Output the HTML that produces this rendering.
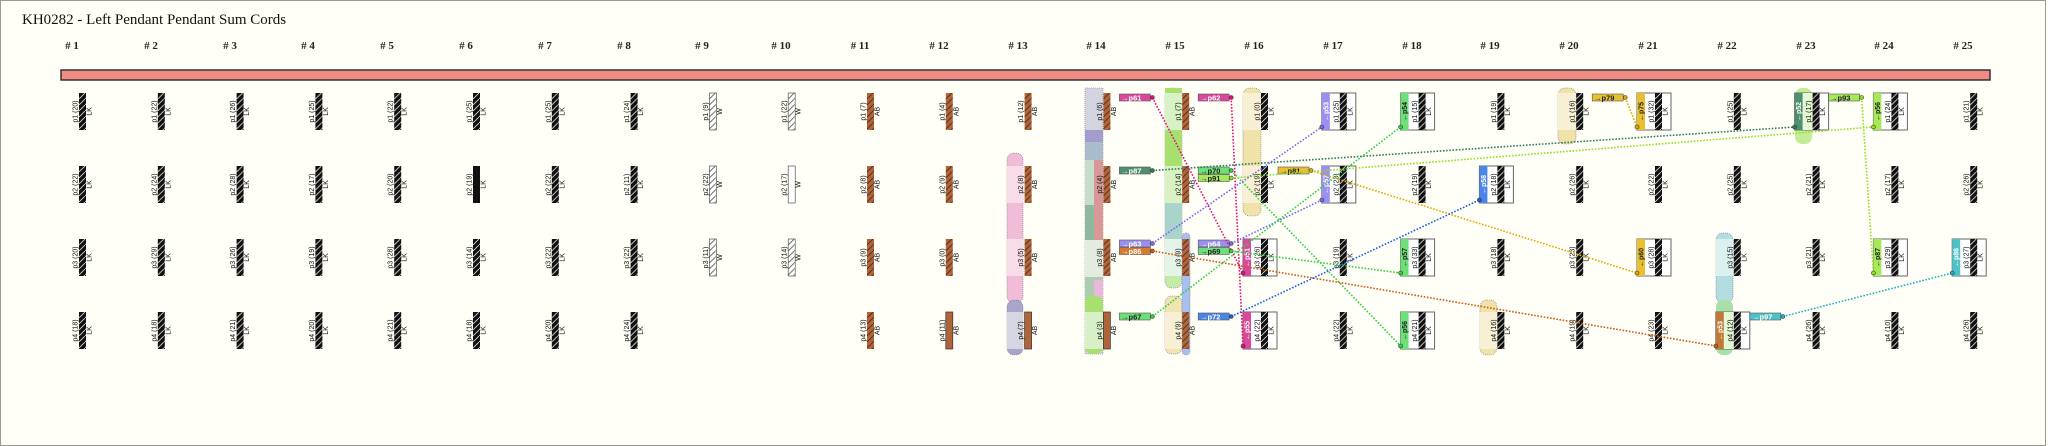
<!DOCTYPE html>
<html><head><meta charset="utf-8"><style>
html,body{margin:0;padding:0;background:#fffff7}
svg{display:block}
.t{font:7px "Liberation Sans",sans-serif;text-anchor:middle;fill:#111}
.w{font:7px "Liberation Sans",sans-serif;text-anchor:middle;fill:#fff;font-weight:bold}
.d{font:7px "Liberation Sans",sans-serif;text-anchor:middle;fill:#222;font-weight:bold}
.ow{font:bold 7.5px "Liberation Sans",sans-serif;fill:#fff}
.od{font:bold 7.5px "Liberation Sans",sans-serif;fill:#222}
.h{font:bold 11px "Liberation Serif",serif;text-anchor:middle;fill:#222}
.ln{fill:none;stroke-width:1.6;stroke-dasharray:1.6 1.6}
.b{stroke:#777;stroke-width:.6;stroke-dasharray:1 1}
</style></head><body>
<svg width="2048" height="446" viewBox="0 0 2048 446" xmlns="http://www.w3.org/2000/svg">
<defs>
<pattern id="k" patternUnits="userSpaceOnUse" width="6" height="6"><rect width="6" height="6" fill="#111"/><path d="M-1,7 L7,-1" stroke="#ddd" stroke-width=".8"/></pattern>
<pattern id="a" patternUnits="userSpaceOnUse" width="6" height="6"><rect width="6" height="6" fill="#b0643a"/><path d="M-1,7 L7,-1" stroke="#4a2a18" stroke-width=".8"/></pattern>
<pattern id="wp" patternUnits="userSpaceOnUse" width="6" height="6"><rect width="6" height="6" fill="#fff"/><path d="M-1,7 L7,-1" stroke="#555" stroke-width=".8"/></pattern>
</defs>
<rect x="0.5" y="0.5" width="2045" height="445" fill="#fffff7" stroke="#999"/>
<text x="22" y="24" style="font:15px 'Liberation Serif',serif;fill:#111">KH0282 - Left Pendant Pendant Sum Cords</text>

<g>
<text class="h" x="72" y="49"># 1</text><text class="h" x="151" y="49"># 2</text><text class="h" x="230" y="49"># 3</text><text class="h" x="308" y="49"># 4</text><text class="h" x="387" y="49"># 5</text><text class="h" x="466" y="49"># 6</text><text class="h" x="545" y="49"># 7</text><text class="h" x="624" y="49"># 8</text><text class="h" x="702" y="49"># 9</text><text class="h" x="781" y="49"># 10</text><text class="h" x="860" y="49"># 11</text><text class="h" x="939" y="49"># 12</text><text class="h" x="1018" y="49"># 13</text><text class="h" x="1096" y="49"># 14</text><text class="h" x="1175" y="49"># 15</text><text class="h" x="1254" y="49"># 16</text><text class="h" x="1333" y="49"># 17</text><text class="h" x="1412" y="49"># 18</text><text class="h" x="1490" y="49"># 19</text><text class="h" x="1569" y="49"># 20</text><text class="h" x="1648" y="49"># 21</text><text class="h" x="1727" y="49"># 22</text><text class="h" x="1806" y="49"># 23</text><text class="h" x="1884" y="49"># 24</text><text class="h" x="1963" y="49"># 25</text>
</g>
<rect x="61" y="70" width="1929" height="10" fill="#f08c84" stroke="#333" stroke-width="1.5"/>

<!-- bands -->
<g>
<rect x="1007" y="153" width="16" height="150" rx="7" fill="#f0bcd8" class="b"/>
<rect x="1007" y="166" width="16" height="37" fill="#f8dcea"/><rect x="1007" y="239" width="16" height="37" fill="#f8dcea"/>
<rect x="1007" y="300" width="16" height="55" rx="7" fill="#a8a4cc" class="b"/><rect x="1007" y="312" width="16" height="37" fill="#d6d6e2"/>
<rect x="1085" y="88" width="18" height="266" fill="#d4d4e0" class="b"/>
<rect x="1085" y="130" width="18" height="36" fill="#a8bccc"/><rect x="1085" y="130" width="18" height="12" fill="#a49ccc"/>
<rect x="1085" y="160" width="18" height="45" fill="#c8dccc"/><rect x="1094" y="160" width="9" height="120" fill="#d89898"/>
<rect x="1085" y="205" width="9" height="35" fill="#90b8a0"/><rect x="1085" y="240" width="18" height="37" fill="#e4ece0"/>
<rect x="1085" y="277" width="18" height="23" fill="#b0ccb0"/><rect x="1094" y="280" width="9" height="20" fill="#eab8d8"/>
<rect x="1085" y="296" width="18" height="58" rx="7" fill="#a8e070"/><rect x="1085" y="312" width="18" height="37" fill="#d8f0c8"/>
<rect x="1165" y="88" width="17" height="200" rx="7" fill="#c4eca8" class="b"/>
<rect x="1165" y="88" width="17" height="10" fill="#a8e070"/><rect x="1165" y="130" width="17" height="36" fill="#a8e070"/>
<rect x="1165" y="93" width="17" height="37" fill="#d8f2c4"/><rect x="1165" y="166" width="17" height="37" fill="#d8f2c4"/>
<rect x="1165" y="203" width="17" height="36" fill="#a8d4cc"/><rect x="1165" y="239" width="17" height="37" fill="#e4f4e8"/>
<rect x="1165" y="296" width="17" height="58" rx="7" fill="#f2e4b0" class="b"/><rect x="1165" y="312" width="17" height="37" fill="#f8f0d4"/>
<rect x="1182" y="233" width="8" height="122" rx="4" fill="#a8c0f0" class="b"/>
<rect x="1243" y="88" width="18" height="128" rx="7" fill="#f0e2a8" class="b"/>
<rect x="1243" y="93" width="18" height="37" fill="#f8f0d4"/><rect x="1243" y="166" width="18" height="37" fill="#f8f0d4"/>
<rect x="1558" y="88" width="18" height="56" rx="7" fill="#f0e2a8" class="b"/><rect x="1558" y="93" width="18" height="37" fill="#f8f0d4"/>
<rect x="1480" y="300" width="17" height="55" rx="7" fill="#f0e2a8" class="b"/><rect x="1480" y="312" width="17" height="37" fill="#f8f0d4"/>
<rect x="1716" y="233" width="17" height="70" rx="7" fill="#b4dde2" class="b"/><rect x="1716" y="239" width="17" height="37" fill="#dcf0f0"/>
<rect x="1716" y="300" width="17" height="55" rx="7" fill="#a8e0a8"/>
<rect x="1795" y="88" width="17" height="56" rx="7" fill="#c4ec98"/>
</g>

<!-- cords cols 1-8 LK -->
<g>
<g transform="translate(79,93)"><rect width="7" height="37" fill="url(#k)"/><text class="t" x="-18.5" y="-1.5" transform="rotate(-90)">p1 (20)</text><text class="t" x="-18.5" y="12.5" transform="rotate(-90)">LK</text></g>
<g transform="translate(79,166)"><rect width="7" height="37" fill="url(#k)"/><text class="t" x="-18.5" y="-1.5" transform="rotate(-90)">p2 (22)</text><text class="t" x="-18.5" y="12.5" transform="rotate(-90)">LK</text></g>
<g transform="translate(79,239)"><rect width="7" height="37" fill="url(#k)"/><text class="t" x="-18.5" y="-1.5" transform="rotate(-90)">p3 (20)</text><text class="t" x="-18.5" y="12.5" transform="rotate(-90)">LK</text></g>
<g transform="translate(79,312)"><rect width="7" height="37" fill="url(#k)"/><text class="t" x="-18.5" y="-1.5" transform="rotate(-90)">p4 (18)</text><text class="t" x="-18.5" y="12.5" transform="rotate(-90)">LK</text></g>

<g transform="translate(157.8,93)"><rect width="7" height="37" fill="url(#k)"/><text class="t" x="-18.5" y="-1.5" transform="rotate(-90)">p1 (22)</text><text class="t" x="-18.5" y="12.5" transform="rotate(-90)">LK</text></g>
<g transform="translate(157.8,166)"><rect width="7" height="37" fill="url(#k)"/><text class="t" x="-18.5" y="-1.5" transform="rotate(-90)">p2 (24)</text><text class="t" x="-18.5" y="12.5" transform="rotate(-90)">LK</text></g>
<g transform="translate(157.8,239)"><rect width="7" height="37" fill="url(#k)"/><text class="t" x="-18.5" y="-1.5" transform="rotate(-90)">p3 (29)</text><text class="t" x="-18.5" y="12.5" transform="rotate(-90)">LK</text></g>
<g transform="translate(157.8,312)"><rect width="7" height="37" fill="url(#k)"/><text class="t" x="-18.5" y="-1.5" transform="rotate(-90)">p4 (18)</text><text class="t" x="-18.5" y="12.5" transform="rotate(-90)">LK</text></g>

<g transform="translate(236.6,93)"><rect width="7" height="37" fill="url(#k)"/><text class="t" x="-18.5" y="-1.5" transform="rotate(-90)">p1 (26)</text><text class="t" x="-18.5" y="12.5" transform="rotate(-90)">LK</text></g>
<g transform="translate(236.6,166)"><rect width="7" height="37" fill="url(#k)"/><text class="t" x="-18.5" y="-1.5" transform="rotate(-90)">p2 (28)</text><text class="t" x="-18.5" y="12.5" transform="rotate(-90)">LK</text></g>
<g transform="translate(236.6,239)"><rect width="7" height="37" fill="url(#k)"/><text class="t" x="-18.5" y="-1.5" transform="rotate(-90)">p3 (26)</text><text class="t" x="-18.5" y="12.5" transform="rotate(-90)">LK</text></g>
<g transform="translate(236.6,312)"><rect width="7" height="37" fill="url(#k)"/><text class="t" x="-18.5" y="-1.5" transform="rotate(-90)">p4 (21)</text><text class="t" x="-18.5" y="12.5" transform="rotate(-90)">LK</text></g>

<g transform="translate(315.4,93)"><rect width="7" height="37" fill="url(#k)"/><text class="t" x="-18.5" y="-1.5" transform="rotate(-90)">p1 (25)</text><text class="t" x="-18.5" y="12.5" transform="rotate(-90)">LK</text></g>
<g transform="translate(315.4,166)"><rect width="7" height="37" fill="url(#k)"/><text class="t" x="-18.5" y="-1.5" transform="rotate(-90)">p2 (17)</text><text class="t" x="-18.5" y="12.5" transform="rotate(-90)">LK</text></g>
<g transform="translate(315.4,239)"><rect width="7" height="37" fill="url(#k)"/><text class="t" x="-18.5" y="-1.5" transform="rotate(-90)">p3 (19)</text><text class="t" x="-18.5" y="12.5" transform="rotate(-90)">LK</text></g>
<g transform="translate(315.4,312)"><rect width="7" height="37" fill="url(#k)"/><text class="t" x="-18.5" y="-1.5" transform="rotate(-90)">p4 (20)</text><text class="t" x="-18.5" y="12.5" transform="rotate(-90)">LK</text></g>

<g transform="translate(394.2,93)"><rect width="7" height="37" fill="url(#k)"/><text class="t" x="-18.5" y="-1.5" transform="rotate(-90)">p1 (22)</text><text class="t" x="-18.5" y="12.5" transform="rotate(-90)">LK</text></g>
<g transform="translate(394.2,166)"><rect width="7" height="37" fill="url(#k)"/><text class="t" x="-18.5" y="-1.5" transform="rotate(-90)">p2 (20)</text><text class="t" x="-18.5" y="12.5" transform="rotate(-90)">LK</text></g>
<g transform="translate(394.2,239)"><rect width="7" height="37" fill="url(#k)"/><text class="t" x="-18.5" y="-1.5" transform="rotate(-90)">p3 (28)</text><text class="t" x="-18.5" y="12.5" transform="rotate(-90)">LK</text></g>
<g transform="translate(394.2,312)"><rect width="7" height="37" fill="url(#k)"/><text class="t" x="-18.5" y="-1.5" transform="rotate(-90)">p4 (21)</text><text class="t" x="-18.5" y="12.5" transform="rotate(-90)">LK</text></g>

<g transform="translate(473,93)"><rect width="7" height="37" fill="url(#k)"/><text class="t" x="-18.5" y="-1.5" transform="rotate(-90)">p1 (25)</text><text class="t" x="-18.5" y="12.5" transform="rotate(-90)">LK</text></g>
<g transform="translate(473,166)"><rect width="7" height="37" fill="#111"/><text class="t" x="-18.5" y="-1.5" transform="rotate(-90)">p2 (19)</text><text class="t" x="-18.5" y="12.5" transform="rotate(-90)">LK</text></g>
<g transform="translate(473,239)"><rect width="7" height="37" fill="url(#k)"/><text class="t" x="-18.5" y="-1.5" transform="rotate(-90)">p3 (14)</text><text class="t" x="-18.5" y="12.5" transform="rotate(-90)">LK</text></g>
<g transform="translate(473,312)"><rect width="7" height="37" fill="url(#k)"/><text class="t" x="-18.5" y="-1.5" transform="rotate(-90)">p4 (18)</text><text class="t" x="-18.5" y="12.5" transform="rotate(-90)">LK</text></g>

<g transform="translate(551.8,93)"><rect width="7" height="37" fill="url(#k)"/><text class="t" x="-18.5" y="-1.5" transform="rotate(-90)">p1 (25)</text><text class="t" x="-18.5" y="12.5" transform="rotate(-90)">LK</text></g>
<g transform="translate(551.8,166)"><rect width="7" height="37" fill="url(#k)"/><text class="t" x="-18.5" y="-1.5" transform="rotate(-90)">p2 (22)</text><text class="t" x="-18.5" y="12.5" transform="rotate(-90)">LK</text></g>
<g transform="translate(551.8,239)"><rect width="7" height="37" fill="url(#k)"/><text class="t" x="-18.5" y="-1.5" transform="rotate(-90)">p3 (22)</text><text class="t" x="-18.5" y="12.5" transform="rotate(-90)">LK</text></g>
<g transform="translate(551.8,312)"><rect width="7" height="37" fill="url(#k)"/><text class="t" x="-18.5" y="-1.5" transform="rotate(-90)">p4 (20)</text><text class="t" x="-18.5" y="12.5" transform="rotate(-90)">LK</text></g>

<g transform="translate(630.6,93)"><rect width="7" height="37" fill="url(#k)"/><text class="t" x="-18.5" y="-1.5" transform="rotate(-90)">p1 (24)</text><text class="t" x="-18.5" y="12.5" transform="rotate(-90)">LK</text></g>
<g transform="translate(630.6,166)"><rect width="7" height="37" fill="url(#k)"/><text class="t" x="-18.5" y="-1.5" transform="rotate(-90)">p2 (11)</text><text class="t" x="-18.5" y="12.5" transform="rotate(-90)">LK</text></g>
<g transform="translate(630.6,239)"><rect width="7" height="37" fill="url(#k)"/><text class="t" x="-18.5" y="-1.5" transform="rotate(-90)">p3 (22)</text><text class="t" x="-18.5" y="12.5" transform="rotate(-90)">LK</text></g>
<g transform="translate(630.6,312)"><rect width="7" height="37" fill="url(#k)"/><text class="t" x="-18.5" y="-1.5" transform="rotate(-90)">p4 (24)</text><text class="t" x="-18.5" y="12.5" transform="rotate(-90)">LK</text></g>
</g>

<!-- W and AB -->
<g>
<g transform="translate(709.4,93)"><rect width="7" height="37" fill="url(#wp)" stroke="#555" stroke-width=".7"/><text class="t" x="-18.5" y="-1.5" transform="rotate(-90)">p1 (9)</text><text class="t" x="-18.5" y="12.5" transform="rotate(-90)">W</text></g>
<g transform="translate(709.4,166)"><rect width="7" height="37" fill="url(#wp)" stroke="#555" stroke-width=".7"/><text class="t" x="-18.5" y="-1.5" transform="rotate(-90)">p2 (22)</text><text class="t" x="-18.5" y="12.5" transform="rotate(-90)">W</text></g>
<g transform="translate(709.4,239)"><rect width="7" height="37" fill="url(#wp)" stroke="#555" stroke-width=".7"/><text class="t" x="-18.5" y="-1.5" transform="rotate(-90)">p3 (11)</text><text class="t" x="-18.5" y="12.5" transform="rotate(-90)">W</text></g>
<g transform="translate(788.2,93)"><rect width="7" height="37" fill="url(#wp)" stroke="#555" stroke-width=".7"/><text class="t" x="-18.5" y="-1.5" transform="rotate(-90)">p1 (22)</text><text class="t" x="-18.5" y="12.5" transform="rotate(-90)">W</text></g>
<g transform="translate(788.2,166)"><rect width="7" height="37" fill="#fff" stroke="#555" stroke-width=".7"/><text class="t" x="-18.5" y="-1.5" transform="rotate(-90)">p2 (17)</text><text class="t" x="-18.5" y="12.5" transform="rotate(-90)">W</text></g>
<g transform="translate(788.2,239)"><rect width="7" height="37" fill="url(#wp)" stroke="#555" stroke-width=".7"/><text class="t" x="-18.5" y="-1.5" transform="rotate(-90)">p3 (14)</text><text class="t" x="-18.5" y="12.5" transform="rotate(-90)">W</text></g>

<g transform="translate(867,93)"><rect width="7" height="37" fill="url(#a)"/><text class="t" x="-18.5" y="-1.5" transform="rotate(-90)">p1 (7)</text><text class="t" x="-18.5" y="12.5" transform="rotate(-90)">AB</text></g>
<g transform="translate(867,166)"><rect width="7" height="37" fill="url(#a)"/><text class="t" x="-18.5" y="-1.5" transform="rotate(-90)">p2 (8)</text><text class="t" x="-18.5" y="12.5" transform="rotate(-90)">AB</text></g>
<g transform="translate(867,239)"><rect width="7" height="37" fill="url(#a)"/><text class="t" x="-18.5" y="-1.5" transform="rotate(-90)">p3 (9)</text><text class="t" x="-18.5" y="12.5" transform="rotate(-90)">AB</text></g>
<g transform="translate(867,312)"><rect width="7" height="37" fill="url(#a)"/><text class="t" x="-18.5" y="-1.5" transform="rotate(-90)">p4 (13)</text><text class="t" x="-18.5" y="12.5" transform="rotate(-90)">AB</text></g>

<g transform="translate(945.8,93)"><rect width="7" height="37" fill="url(#a)"/><text class="t" x="-18.5" y="-1.5" transform="rotate(-90)">p1 (4)</text><text class="t" x="-18.5" y="12.5" transform="rotate(-90)">AB</text></g>
<g transform="translate(945.8,166)"><rect width="7" height="37" fill="url(#a)"/><text class="t" x="-18.5" y="-1.5" transform="rotate(-90)">p2 (9)</text><text class="t" x="-18.5" y="12.5" transform="rotate(-90)">AB</text></g>
<g transform="translate(945.8,239)"><rect width="7" height="37" fill="url(#a)"/><text class="t" x="-18.5" y="-1.5" transform="rotate(-90)">p3 (0)</text><text class="t" x="-18.5" y="12.5" transform="rotate(-90)">AB</text></g>
<g transform="translate(945.8,312)"><rect width="7" height="37" fill="#b0643a" stroke="#333" stroke-width=".7"/><text class="t" x="-18.5" y="-1.5" transform="rotate(-90)">p4 (11)</text><text class="t" x="-18.5" y="12.5" transform="rotate(-90)">AB</text></g>

<g transform="translate(1024.6,93)"><rect width="7" height="37" fill="url(#a)"/><text class="t" x="-18.5" y="-1.5" transform="rotate(-90)">p1 (12)</text><text class="t" x="-18.5" y="12.5" transform="rotate(-90)">AB</text></g>
<g transform="translate(1024.6,166)"><rect width="7" height="37" fill="url(#a)"/><text class="t" x="-18.5" y="-1.5" transform="rotate(-90)">p2 (8)</text><text class="t" x="-18.5" y="12.5" transform="rotate(-90)">AB</text></g>
<g transform="translate(1024.6,239)"><rect width="7" height="37" fill="url(#a)"/><text class="t" x="-18.5" y="-1.5" transform="rotate(-90)">p3 (5)</text><text class="t" x="-18.5" y="12.5" transform="rotate(-90)">AB</text></g>
<g transform="translate(1024.6,312)"><rect width="7" height="37" fill="#b0643a" stroke="#333" stroke-width=".7"/><text class="t" x="-18.5" y="-1.5" transform="rotate(-90)">p4 (7)</text><text class="t" x="-18.5" y="12.5" transform="rotate(-90)">AB</text></g>

<g transform="translate(1103.4,93)"><rect width="7" height="37" fill="url(#a)"/><text class="t" x="-18.5" y="-1.5" transform="rotate(-90)">p1 (6)</text><text class="t" x="-18.5" y="12.5" transform="rotate(-90)">AB</text></g>
<g transform="translate(1103.4,166)"><rect width="7" height="37" fill="url(#a)"/><text class="t" x="-18.5" y="-1.5" transform="rotate(-90)">p2 (4)</text><text class="t" x="-18.5" y="12.5" transform="rotate(-90)">AB</text></g>
<g transform="translate(1103.4,239)"><rect width="7" height="37" fill="url(#a)"/><text class="t" x="-18.5" y="-1.5" transform="rotate(-90)">p3 (8)</text><text class="t" x="-18.5" y="12.5" transform="rotate(-90)">AB</text></g>
<g transform="translate(1103.4,312)"><rect width="7" height="37" fill="#b0643a" stroke="#333" stroke-width=".7"/><text class="t" x="-18.5" y="-1.5" transform="rotate(-90)">p4 (3)</text><text class="t" x="-18.5" y="12.5" transform="rotate(-90)">AB</text></g>

<g transform="translate(1182.2,93)"><rect width="7" height="37" fill="url(#a)"/><text class="t" x="-18.5" y="-1.5" transform="rotate(-90)">p1 (7)</text><text class="t" x="-18.5" y="12.5" transform="rotate(-90)">AB</text></g>
<g transform="translate(1182.2,166)"><rect width="7" height="37" fill="url(#a)"/><text class="t" x="-18.5" y="-1.5" transform="rotate(-90)">p2 (14)</text><text class="t" x="-18.5" y="12.5" transform="rotate(-90)">AB</text></g>
<g transform="translate(1182.2,239)"><rect width="7" height="37" fill="url(#a)"/><text class="t" x="-18.5" y="-1.5" transform="rotate(-90)">p3 (9)</text><text class="t" x="-18.5" y="12.5" transform="rotate(-90)">AB</text></g>
<g transform="translate(1182.2,312)"><rect width="7" height="37" fill="url(#a)"/><text class="t" x="-18.5" y="-1.5" transform="rotate(-90)">p4 (9)</text><text class="t" x="-18.5" y="12.5" transform="rotate(-90)">AB</text></g>
</g>

<!-- cols 16-25 plain LK -->
<g>
<g transform="translate(1261,93)"><rect width="7" height="37" fill="url(#k)"/><text class="t" x="-18.5" y="-1.5" transform="rotate(-90)">p1 (0)</text><text class="t" x="-18.5" y="12.5" transform="rotate(-90)">LK</text></g>
<g transform="translate(1261,166)"><rect width="7" height="37" fill="url(#k)"/><text class="t" x="-18.5" y="-1.5" transform="rotate(-90)">p2 (19)</text><text class="t" x="-18.5" y="12.5" transform="rotate(-90)">LK</text></g>
<g transform="translate(1339.8,239)"><rect width="7" height="37" fill="url(#k)"/><text class="t" x="-18.5" y="-1.5" transform="rotate(-90)">p3 (19)</text><text class="t" x="-18.5" y="12.5" transform="rotate(-90)">LK</text></g>
<g transform="translate(1339.8,312)"><rect width="7" height="37" fill="url(#k)"/><text class="t" x="-18.5" y="-1.5" transform="rotate(-90)">p4 (22)</text><text class="t" x="-18.5" y="12.5" transform="rotate(-90)">LK</text></g>
<g transform="translate(1418.6,166)"><rect width="7" height="37" fill="url(#k)"/><text class="t" x="-18.5" y="-1.5" transform="rotate(-90)">p2 (19)</text><text class="t" x="-18.5" y="12.5" transform="rotate(-90)">LK</text></g>
<g transform="translate(1497.4,93)"><rect width="7" height="37" fill="url(#k)"/><text class="t" x="-18.5" y="-1.5" transform="rotate(-90)">p1 (19)</text><text class="t" x="-18.5" y="12.5" transform="rotate(-90)">LK</text></g>
<g transform="translate(1497.4,239)"><rect width="7" height="37" fill="url(#k)"/><text class="t" x="-18.5" y="-1.5" transform="rotate(-90)">p3 (18)</text><text class="t" x="-18.5" y="12.5" transform="rotate(-90)">LK</text></g>
<g transform="translate(1497.4,312)"><rect width="7" height="37" fill="url(#k)"/><text class="t" x="-18.5" y="-1.5" transform="rotate(-90)">p4 (16)</text><text class="t" x="-18.5" y="12.5" transform="rotate(-90)">LK</text></g>
<g transform="translate(1576.2,93)"><rect width="7" height="37" fill="url(#k)"/><text class="t" x="-18.5" y="-1.5" transform="rotate(-90)">p1 (16)</text><text class="t" x="-18.5" y="12.5" transform="rotate(-90)">LK</text></g>
<g transform="translate(1576.2,166)"><rect width="7" height="37" fill="url(#k)"/><text class="t" x="-18.5" y="-1.5" transform="rotate(-90)">p2 (26)</text><text class="t" x="-18.5" y="12.5" transform="rotate(-90)">LK</text></g>
<g transform="translate(1576.2,239)"><rect width="7" height="37" fill="url(#k)"/><text class="t" x="-18.5" y="-1.5" transform="rotate(-90)">p3 (23)</text><text class="t" x="-18.5" y="12.5" transform="rotate(-90)">LK</text></g>
<g transform="translate(1576.2,312)"><rect width="7" height="37" fill="url(#k)"/><text class="t" x="-18.5" y="-1.5" transform="rotate(-90)">p4 (19)</text><text class="t" x="-18.5" y="12.5" transform="rotate(-90)">LK</text></g>
<g transform="translate(1655,166)"><rect width="7" height="37" fill="url(#k)"/><text class="t" x="-18.5" y="-1.5" transform="rotate(-90)">p2 (22)</text><text class="t" x="-18.5" y="12.5" transform="rotate(-90)">LK</text></g>
<g transform="translate(1655,312)"><rect width="7" height="37" fill="url(#k)"/><text class="t" x="-18.5" y="-1.5" transform="rotate(-90)">p4 (23)</text><text class="t" x="-18.5" y="12.5" transform="rotate(-90)">LK</text></g>
<g transform="translate(1733.8,93)"><rect width="7" height="37" fill="url(#k)"/><text class="t" x="-18.5" y="-1.5" transform="rotate(-90)">p1 (25)</text><text class="t" x="-18.5" y="12.5" transform="rotate(-90)">LK</text></g>
<g transform="translate(1733.8,166)"><rect width="7" height="37" fill="url(#k)"/><text class="t" x="-18.5" y="-1.5" transform="rotate(-90)">p2 (25)</text><text class="t" x="-18.5" y="12.5" transform="rotate(-90)">LK</text></g>
<g transform="translate(1733.8,239)"><rect width="7" height="37" fill="url(#k)"/><text class="t" x="-18.5" y="-1.5" transform="rotate(-90)">p3 (15)</text><text class="t" x="-18.5" y="12.5" transform="rotate(-90)">LK</text></g>
<g transform="translate(1812.6,166)"><rect width="7" height="37" fill="url(#k)"/><text class="t" x="-18.5" y="-1.5" transform="rotate(-90)">p2 (21)</text><text class="t" x="-18.5" y="12.5" transform="rotate(-90)">LK</text></g>
<g transform="translate(1812.6,239)"><rect width="7" height="37" fill="url(#k)"/><text class="t" x="-18.5" y="-1.5" transform="rotate(-90)">p3 (21)</text><text class="t" x="-18.5" y="12.5" transform="rotate(-90)">LK</text></g>
<g transform="translate(1812.6,312)"><rect width="7" height="37" fill="url(#k)"/><text class="t" x="-18.5" y="-1.5" transform="rotate(-90)">p4 (26)</text><text class="t" x="-18.5" y="12.5" transform="rotate(-90)">LK</text></g>
<g transform="translate(1891.4,166)"><rect width="7" height="37" fill="url(#k)"/><text class="t" x="-18.5" y="-1.5" transform="rotate(-90)">p2 (17)</text><text class="t" x="-18.5" y="12.5" transform="rotate(-90)">LK</text></g>
<g transform="translate(1891.4,312)"><rect width="7" height="37" fill="url(#k)"/><text class="t" x="-18.5" y="-1.5" transform="rotate(-90)">p4 (10)</text><text class="t" x="-18.5" y="12.5" transform="rotate(-90)">LK</text></g>
<g transform="translate(1970.2,93)"><rect width="7" height="37" fill="url(#k)"/><text class="t" x="-18.5" y="-1.5" transform="rotate(-90)">p1 (21)</text><text class="t" x="-18.5" y="12.5" transform="rotate(-90)">LK</text></g>
<g transform="translate(1970.2,166)"><rect width="7" height="37" fill="url(#k)"/><text class="t" x="-18.5" y="-1.5" transform="rotate(-90)">p2 (26)</text><text class="t" x="-18.5" y="12.5" transform="rotate(-90)">LK</text></g>
<g transform="translate(1970.2,312)"><rect width="7" height="37" fill="url(#k)"/><text class="t" x="-18.5" y="-1.5" transform="rotate(-90)">p4 (26)</text><text class="t" x="-18.5" y="12.5" transform="rotate(-90)">LK</text></g>
</g>

<!-- boxed sum cords -->
<g>
<g transform="translate(1261,239)"><rect x="-18" width="34" height="37" fill="#fff" stroke="#666"/><rect x="-18" width="8" height="37" fill="#d9489a"/><rect width="7" height="37" fill="url(#k)"/><text class="w" x="-18.5" y="-11.5" transform="rotate(-90)">←p51</text><text class="t" x="-18.5" y="-1.5" transform="rotate(-90)">p3 (26)</text><text class="t" x="-18.5" y="12.5" transform="rotate(-90)">LK</text></g>
<g transform="translate(1261,312)"><rect x="-18" width="34" height="37" fill="#fff" stroke="#666"/><rect x="-18" width="8" height="37" fill="#d9489a"/><rect width="7" height="37" fill="url(#k)"/><text class="w" x="-18.5" y="-11.5" transform="rotate(-90)">←p55</text><text class="t" x="-18.5" y="-1.5" transform="rotate(-90)">p4 (22)</text><text class="t" x="-18.5" y="12.5" transform="rotate(-90)">LK</text></g>
<g transform="translate(1339.8,93)"><rect x="-18" width="34" height="37" fill="#fff" stroke="#666"/><rect x="-18" width="8" height="37" fill="#9a90f0"/><rect width="7" height="37" fill="url(#k)"/><text class="w" x="-18.5" y="-11.5" transform="rotate(-90)">←p53</text><text class="t" x="-18.5" y="-1.5" transform="rotate(-90)">p1 (25)</text><text class="t" x="-18.5" y="12.5" transform="rotate(-90)">LK</text></g>
<g transform="translate(1339.8,166)"><rect x="-18" width="34" height="37" fill="#fff" stroke="#666"/><rect x="-18" width="8" height="37" fill="#9a90f0"/><rect width="7" height="37" fill="url(#k)"/><text class="w" x="-18.5" y="-11.5" transform="rotate(-90)">←p57</text><text class="t" x="-18.5" y="-1.5" transform="rotate(-90)">p2 (23)</text><text class="t" x="-18.5" y="12.5" transform="rotate(-90)">LK</text></g>
<g transform="translate(1418.6,93)"><rect x="-18" width="34" height="37" fill="#fff" stroke="#666"/><rect x="-18" width="8" height="37" fill="#6ee07a"/><rect width="7" height="37" fill="url(#k)"/><text class="d" x="-18.5" y="-11.5" transform="rotate(-90)">←p54</text><text class="t" x="-18.5" y="-1.5" transform="rotate(-90)">p1 (15)</text><text class="t" x="-18.5" y="12.5" transform="rotate(-90)">LK</text></g>
<g transform="translate(1418.6,239)"><rect x="-18" width="34" height="37" fill="#fff" stroke="#666"/><rect x="-18" width="8" height="37" fill="#6ee07a"/><rect width="7" height="37" fill="url(#k)"/><text class="d" x="-18.5" y="-11.5" transform="rotate(-90)">←p57</text><text class="t" x="-18.5" y="-1.5" transform="rotate(-90)">p3 (33)</text><text class="t" x="-18.5" y="12.5" transform="rotate(-90)">LK</text></g>
<g transform="translate(1418.6,312)"><rect x="-18" width="34" height="37" fill="#fff" stroke="#666"/><rect x="-18" width="8" height="37" fill="#6ee07a"/><rect width="7" height="37" fill="url(#k)"/><text class="d" x="-18.5" y="-11.5" transform="rotate(-90)">←p56</text><text class="t" x="-18.5" y="-1.5" transform="rotate(-90)">p4 (21)</text><text class="t" x="-18.5" y="12.5" transform="rotate(-90)">LK</text></g>
<g transform="translate(1497.4,166)"><rect x="-18" width="34" height="37" fill="#fff" stroke="#666"/><rect x="-18" width="8" height="37" fill="#4a86e8"/><rect width="7" height="37" fill="url(#k)"/><text class="w" x="-18.5" y="-11.5" transform="rotate(-90)">←p58</text><text class="t" x="-18.5" y="-1.5" transform="rotate(-90)">p2 (18)</text><text class="t" x="-18.5" y="12.5" transform="rotate(-90)">LK</text></g>
<g transform="translate(1655,93)"><rect x="-18" width="34" height="37" fill="#fff" stroke="#666"/><rect x="-18" width="8" height="37" fill="#e8c030"/><rect width="7" height="37" fill="url(#k)"/><text class="d" x="-18.5" y="-11.5" transform="rotate(-90)">←p75</text><text class="t" x="-18.5" y="-1.5" transform="rotate(-90)">p1 (32)</text><text class="t" x="-18.5" y="12.5" transform="rotate(-90)">LK</text></g>
<g transform="translate(1655,239)"><rect x="-18" width="34" height="37" fill="#fff" stroke="#666"/><rect x="-18" width="8" height="37" fill="#e8c030"/><rect width="7" height="37" fill="url(#k)"/><text class="d" x="-18.5" y="-11.5" transform="rotate(-90)">←p60</text><text class="t" x="-18.5" y="-1.5" transform="rotate(-90)">p3 (28)</text><text class="t" x="-18.5" y="12.5" transform="rotate(-90)">LK</text></g>
<g transform="translate(1733.8,312)"><rect x="-18" width="34" height="37" fill="#fff" stroke="#666"/><rect x="-10" width="10" height="37" fill="#e4f8d4"/><rect x="-18" width="8" height="37" fill="#c07838"/><rect width="7" height="37" fill="url(#k)"/><text class="w" x="-18.5" y="-11.5" transform="rotate(-90)">←p53</text><text class="t" x="-18.5" y="-1.5" transform="rotate(-90)">p4 (12)</text><text class="t" x="-18.5" y="12.5" transform="rotate(-90)">LK</text></g>
<g transform="translate(1812.6,93)"><rect x="-18" width="34" height="37" fill="#fff" stroke="#666"/><rect x="-10" width="10" height="37" fill="#e4f8d4"/><rect x="-18" width="8" height="37" fill="#4e8f6f"/><rect width="7" height="37" fill="url(#k)"/><text class="w" x="-18.5" y="-11.5" transform="rotate(-90)">←p52</text><text class="t" x="-18.5" y="-1.5" transform="rotate(-90)">p1 (17)</text><text class="t" x="-18.5" y="12.5" transform="rotate(-90)">LK</text></g>
<g transform="translate(1891.4,93)"><rect x="-18" width="34" height="37" fill="#fff" stroke="#666"/><rect x="-18" width="8" height="37" fill="#a6e85a"/><rect width="7" height="37" fill="url(#k)"/><text class="d" x="-18.5" y="-11.5" transform="rotate(-90)">←p56</text><text class="t" x="-18.5" y="-1.5" transform="rotate(-90)">p1 (24)</text><text class="t" x="-18.5" y="12.5" transform="rotate(-90)">LK</text></g>
<g transform="translate(1891.4,239)"><rect x="-18" width="34" height="37" fill="#fff" stroke="#666"/><rect x="-18" width="8" height="37" fill="#a6e85a"/><rect width="7" height="37" fill="url(#k)"/><text class="d" x="-18.5" y="-11.5" transform="rotate(-90)">←p87</text><text class="t" x="-18.5" y="-1.5" transform="rotate(-90)">p3 (29)</text><text class="t" x="-18.5" y="12.5" transform="rotate(-90)">LK</text></g>
<g transform="translate(1970.2,239)"><rect x="-18" width="34" height="37" fill="#fff" stroke="#666"/><rect x="-18" width="8" height="37" fill="#4fc2c8"/><rect width="7" height="37" fill="url(#k)"/><text class="w" x="-18.5" y="-11.5" transform="rotate(-90)">←p86</text><text class="t" x="-18.5" y="-1.5" transform="rotate(-90)">p3 (27)</text><text class="t" x="-18.5" y="12.5" transform="rotate(-90)">LK</text></g>
</g>

<!-- outgoing labels -->
<g stroke="#555" stroke-width=".6">
<rect x="1119.4" y="94" width="31" height="7" fill="#d9489a"/>
<rect x="1198.2" y="94" width="31" height="7" fill="#d9489a"/>
<rect x="1119.4" y="167" width="31" height="7" fill="#4e8f6f"/>
<rect x="1198.2" y="167" width="31" height="7" fill="#6ee07a"/>
<rect x="1198.2" y="174.5" width="31" height="7" fill="#a6e85a"/>
<rect x="1278" y="167" width="31" height="7" fill="#e8c030"/>
<rect x="1119.4" y="240" width="31" height="7" fill="#9a90f0"/>
<rect x="1119.4" y="247.5" width="31" height="7" fill="#d77a2e"/>
<rect x="1198.2" y="240" width="31" height="7" fill="#9a90f0"/>
<rect x="1198.2" y="247.5" width="31" height="7" fill="#6ee07a"/>
<rect x="1119.4" y="313" width="31" height="7" fill="#6ee07a"/>
<rect x="1198.2" y="313" width="31" height="7" fill="#4a86e8"/>
<rect x="1592.2" y="94" width="31" height="7" fill="#e8c030"/>
<rect x="1828.6" y="94" width="31" height="7" fill="#a6e85a"/>
<rect x="1749.8" y="313" width="31" height="7" fill="#4fc2c8"/>
</g>
<g>
<text class="ow" x="1121" y="100.5">→p61</text>
<text class="ow" x="1200" y="100.5">→p62</text>
<text class="ow" x="1121" y="173.5">→p87</text>
<text class="od" x="1200" y="173.5">→p70</text>
<text class="od" x="1200" y="181">→p91</text>
<text class="od" x="1280" y="173.5">→p81</text>
<text class="ow" x="1121" y="246.5">→p63</text>
<text class="ow" x="1121" y="254">→p86</text>
<text class="ow" x="1200" y="246.5">→p64</text>
<text class="od" x="1200" y="254">→p69</text>
<text class="od" x="1121" y="319.5">→p67</text>
<text class="ow" x="1200" y="319.5">→p72</text>
<text class="od" x="1594" y="100.5">→p79</text>
<text class="od" x="1830" y="100.5">→p93</text>
<text class="ow" x="1752" y="319.5">→p97</text>
</g>

<!-- connectors -->
<g class="ln">
<path d="M1152.4,97.5 L1243,273" stroke="#e0107a"/>
<path d="M1231.2,97.5 L1243,346" stroke="#e0107a"/>
<path d="M1152.4,170.5 L1794.6,127" stroke="#2e7d5a"/>
<path d="M1231.2,170.5 L1400.6,346" stroke="#30d040"/>
<path d="M1231.2,178 L1873.4,127" stroke="#90e020"/>
<path d="M1311,170.5 L1637,273" stroke="#e0a800"/>
<path d="M1152.4,243.5 L1321.8,127" stroke="#7a6af0"/>
<path d="M1152.4,251 L1715.8,346" stroke="#d05a10"/>
<path d="M1231.2,243.5 L1321.8,200" stroke="#7a6af0"/>
<path d="M1231.2,251 L1400.6,273" stroke="#30d040"/>
<path d="M1152.4,316.5 L1400.6,127" stroke="#30d040"/>
<path d="M1231.2,316.5 L1479.4,200" stroke="#2060e0"/>
<path d="M1625.2,97.5 L1637,127" stroke="#e0a800"/>
<path d="M1861.6,97.5 L1873.4,273" stroke="#90e020"/>
<path d="M1782.8,316.5 L1952.2,273" stroke="#20b0c0"/>
</g>
<g stroke="#333" stroke-width=".6">
<circle cx="1152.4" cy="97.5" r="2" fill="#e0107a"/><circle cx="1243" cy="273" r="2" fill="#e0107a"/>
<circle cx="1231.2" cy="97.5" r="2" fill="#e0107a"/><circle cx="1243" cy="346" r="2" fill="#e0107a"/>
<circle cx="1152.4" cy="170.5" r="2" fill="#2e7d5a"/><circle cx="1794.6" cy="127" r="2" fill="#2e7d5a"/>
<circle cx="1231.2" cy="170.5" r="2" fill="#30d040"/><circle cx="1400.6" cy="346" r="2" fill="#30d040"/>
<circle cx="1231.2" cy="178" r="2" fill="#90e020"/><circle cx="1873.4" cy="127" r="2" fill="#90e020"/>
<circle cx="1311" cy="170.5" r="2" fill="#e0a800"/><circle cx="1637" cy="273" r="2" fill="#e0a800"/>
<circle cx="1152.4" cy="243.5" r="2" fill="#7a6af0"/><circle cx="1321.8" cy="127" r="2" fill="#7a6af0"/>
<circle cx="1152.4" cy="251" r="2" fill="#d05a10"/><circle cx="1715.8" cy="346" r="2" fill="#d05a10"/>
<circle cx="1231.2" cy="243.5" r="2" fill="#7a6af0"/><circle cx="1321.8" cy="200" r="2" fill="#7a6af0"/>
<circle cx="1231.2" cy="251" r="2" fill="#30d040"/><circle cx="1400.6" cy="273" r="2" fill="#30d040"/>
<circle cx="1152.4" cy="316.5" r="2" fill="#30d040"/><circle cx="1400.6" cy="127" r="2" fill="#30d040"/>
<circle cx="1231.2" cy="316.5" r="2" fill="#2060e0"/><circle cx="1479.4" cy="200" r="2" fill="#2060e0"/>
<circle cx="1625.2" cy="97.5" r="2" fill="#e0a800"/><circle cx="1637" cy="127" r="2" fill="#e0a800"/>
<circle cx="1861.6" cy="97.5" r="2" fill="#90e020"/><circle cx="1873.4" cy="273" r="2" fill="#90e020"/>
<circle cx="1782.8" cy="316.5" r="2" fill="#20b0c0"/><circle cx="1952.2" cy="273" r="2" fill="#20b0c0"/>
</g>
</svg>
</body></html>
